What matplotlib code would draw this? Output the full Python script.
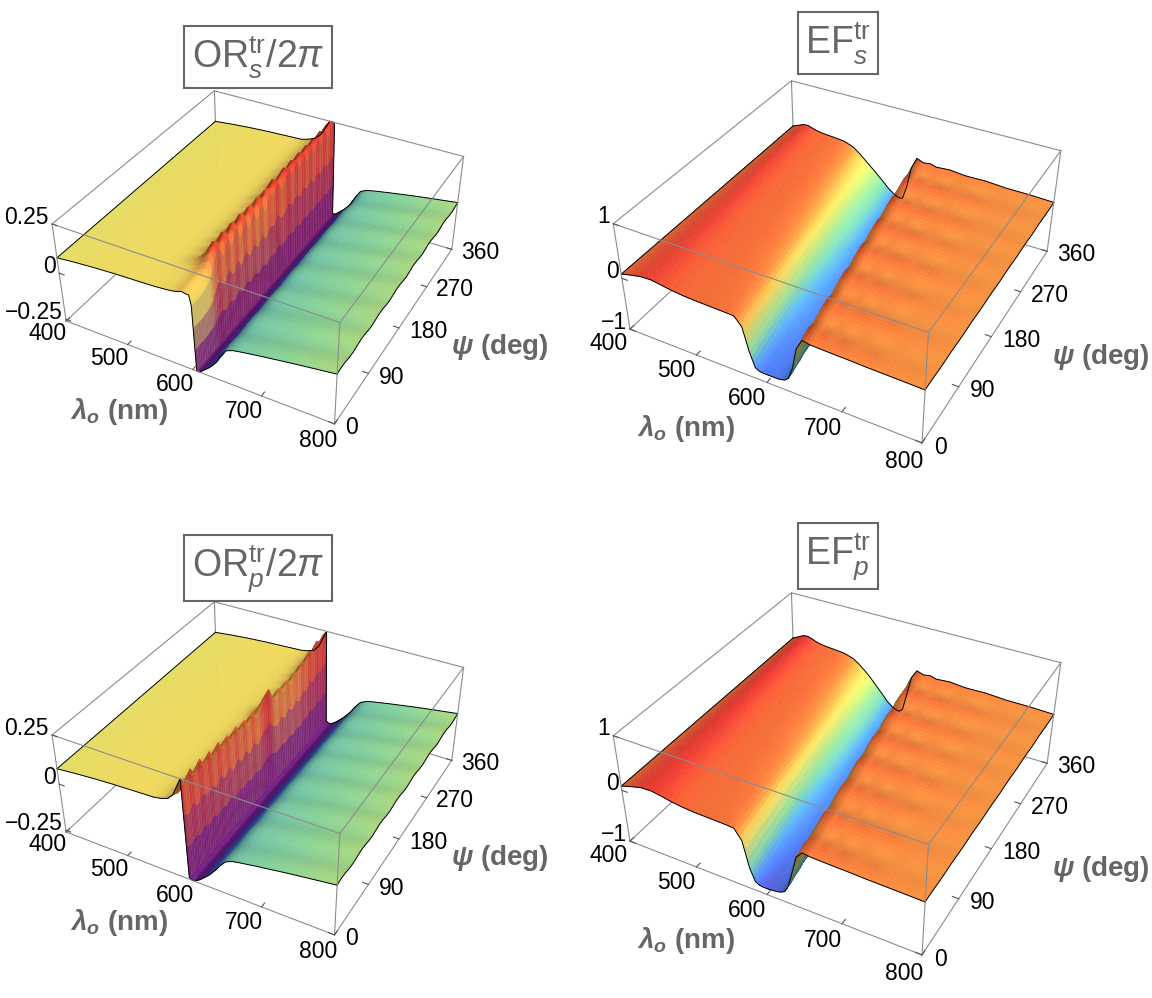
import numpy as np
import matplotlib
matplotlib.use("Agg")
import matplotlib.pyplot as plt
from matplotlib.colors import LinearSegmentedColormap, Normalize
from mpl_toolkits.mplot3d import proj3d

plt.rcParams['font.family'] = ['Liberation Sans', 'DejaVu Sans']
plt.rcParams['mathtext.fontset'] = 'custom'
plt.rcParams['mathtext.rm'] = 'Liberation Sans'
plt.rcParams['mathtext.it'] = 'Liberation Sans:italic'
plt.rcParams['mathtext.bf'] = 'Liberation Sans:bold:italic'

# sample positions: wavelength (nm) and polarisation angle psi (deg)
LAM = np.array([400, 415, 430, 445, 460, 475, 490, 505, 520, 535,
                550, 560, 570, 578, 585, 590, 595, 600, 603, 606,
                609, 612, 615, 620, 625, 630, 636, 642, 650, 660,
                670, 680, 695, 710, 730, 750, 775, 800])
PSI = np.arange(0, 361, 10)

# OR_s / 2pi : profile along lambda, resonance hump and its height along psi
ORS_BASE = [0.080, 0.085, 0.090, 0.094, 0.098, 0.101, 0.104, 0.106, 0.108, 0.110,
            0.112, 0.115, 0.118, 0.122, 0.128, 0.135, 0.130, 0.130, 0.080, -0.260,
            -0.260, -0.255, -0.245, -0.230, -0.215, -0.195, -0.170, -0.130, -0.090, -0.075,
            -0.068, -0.062, -0.053, -0.045, -0.034, -0.024, -0.012, 0.000]
ORS_HUMP = [0, 0, 0, 0, 0, 0, 0, 0, 0, 0,
            0, 0.04, 0.1, 0.2, 0.35, 0.5, 0.75, 0.95, 1.0, 0,
            0, 0, 0, 0, 0, 0, 0, 0, 0, 0,
            0, 0, 0, 0, 0, 0, 0, 0]
ORS_AMP = [0.0, 0.0, 0.0, 0.01, 0.03, 0.10, 0.15, 0.08, 0.15, 0.08,
           0.15, 0.08, 0.15, 0.08, 0.14, 0.08, 0.14, 0.08, 0.14, 0.11,
           0.17, 0.11, 0.13, 0.17, 0.12, 0.17, 0.12, 0.17, 0.12, 0.17,
           0.12, 0.17, 0.13, 0.17, 0.13, 0.17, 0.16]

# OR_p / 2pi
ORP_BASE = [0.080, 0.085, 0.090, 0.094, 0.098, 0.101, 0.104, 0.106, 0.108, 0.110,
            0.112, 0.115, 0.118, 0.122, 0.128, 0.130, -0.250, -0.260, -0.258, -0.252,
            -0.245, -0.237, -0.228, -0.212, -0.195, -0.175, -0.150, -0.120, -0.090, -0.075,
            -0.068, -0.062, -0.053, -0.045, -0.034, -0.024, -0.012, 0.000]
ORP_HUMP = [0, 0, 0, 0, 0, 0, 0, 0, 0, 0,
            0, 0.03, 0.1, 0.3, 0.7, 1.0, 0, 0, 0, 0,
            0, 0, 0, 0, 0, 0, 0, 0, 0, 0,
            0, 0, 0, 0, 0, 0, 0, 0]
ORP_AMP = [0.12, 0.07, 0.12, 0.07, 0.12, 0.07, 0.11, 0.06, 0.11, 0.06,
           0.10, 0.05, 0.10, 0.05, 0.09, 0.04, 0.09, 0.04, 0.08, 0.11,
           0.12, 0.06, 0.03, 0.07, 0.03, 0.07, 0.03, 0.07, 0.04, 0.09,
           0.06, 0.11, 0.08, 0.12, 0.10, 0.12, 0.12]

# EF_s and EF_p : lambda profiles seen at psi = 0 (FRONT) and psi = 360 (BACK)
EFS_FRONT = [0.080, 0.130, 0.170, 0.180, 0.150, 0.120, 0.100, 0.090, 0.085, 0.080,
             0.075, 0.070, -0.080, -0.520, -0.790, -0.830, -0.840, -0.840, -0.840, -0.840,
             -0.840, -0.840, -0.840, -0.830, -0.810, -0.750, -0.520, -0.120, 0.080, 0.050,
             0.045, 0.040, 0.035, 0.030, 0.020, 0.015, 0.008, 0.000]
EFS_BACK = [0.080, 0.130, 0.170, 0.180, 0.150, 0.120, 0.100, 0.090, 0.080, 0.060,
            -0.010, -0.110, -0.220, -0.310, -0.390, -0.450, -0.510, -0.570, -0.610, -0.650,
            -0.680, -0.710, -0.740, -0.780, -0.800, -0.790, -0.520, -0.120, 0.080, 0.050,
            0.045, 0.040, 0.035, 0.030, 0.020, 0.015, 0.008, 0.000]
EFP_FRONT = [0.080, 0.140, 0.190, 0.200, 0.170, 0.130, 0.105, 0.090, 0.085, 0.080,
             0.075, 0.065, -0.120, -0.600, -0.830, -0.870, -0.880, -0.880, -0.880, -0.875,
             -0.870, -0.865, -0.860, -0.840, -0.800, -0.670, -0.370, -0.050, 0.070, 0.050,
             0.045, 0.040, 0.035, 0.030, 0.020, 0.015, 0.008, 0.000]
EFP_BACK = [0.080, 0.140, 0.190, 0.200, 0.170, 0.130, 0.105, 0.090, 0.080, 0.060,
            0.000, -0.090, -0.200, -0.300, -0.400, -0.470, -0.540, -0.610, -0.660, -0.700,
            -0.730, -0.760, -0.790, -0.820, -0.830, -0.770, -0.420, -0.070, 0.070, 0.050,
            0.045, 0.040, 0.035, 0.030, 0.020, 0.015, 0.008, 0.000]
EF_WBACK = [0, 0.03, 0.06, 0.08, 0.11, 0.14, 0.17, 0.19, 0.22, 0.25,
            0.28, 0.31, 0.33, 0.36, 0.39, 0.42, 0.44, 0.47, 0.50, 0.53,
            0.56, 0.58, 0.61, 0.64, 0.67, 0.69, 0.72, 0.75, 0.78, 0.81,
            0.83, 0.86, 0.89, 0.92, 0.94, 0.97, 1.0]

# small ripples on the long-wavelength plateau
RIPPLE_PSI = [0, 0.95, 0.6, -0.6, -0.95, 0, 0.95, 0.6, -0.6, -0.95,
              0, 0.95, 0.6, -0.6, -0.95, 0, 0.95, 0.6, -0.6, -0.95,
              0, 0.95, 0.6, -0.6, -0.95, 0, 0.95, 0.6, -0.6, -0.95,
              0, 0.95, 0.6, -0.6, -0.95, 0, 0.95]
EF_RIPPLE_LAM = [0, 0, 0, 0, 0, 0, 0, 0, 0, 0,
                 0, 0, 0, 0, 0, 0, 0, 0, 0, 0,
                 0, 0, 0, 0, 0, 0, 0, 0.3, 1.0, 0.4,
                 1.0, 0.3, 0.9, 0.3, 0.7, 0.2, 0.3, 0.1]
OR_RIPPLE_LAM = [0, 0, 0, 0, 0, 0, 0, 0, 0, 0,
                 0, 0, 0, 0, 0, 0, 0, 0, 0, 0,
                 0, 0, 0, 0, 0, 0, 0, 0.4, 0.8, 1.0,
                 1.0, 1.0, 1.0, 1.0, 1.0, 1.0, 0.9, 0.8]

# drift of the EF resonance towards shorter wavelength as psi grows
EF_SHIFT = [0, -1, -3, -4, -6, -7, -8, -10, -11, -12,
            -14, -15, -17, -18, -19, -21, -22, -24, -25, -26,
            -28, -29, -31, -32, -33, -35, -36, -38, -39, -40,
            -42, -43, -44, -46, -47, -49, -50]
OR_SHIFT = [0] * 37
TAPER = [0, 0.1, 0.25, 0.4, 0.55, 0.7, 0.82, 0.92, 1, 1,
         1, 1, 1, 1, 1, 1, 1, 1, 1, 1,
         1, 1, 1, 1, 1, 1, 1, 1, 1, 1,
         1, 1, 0.9, 0.75, 0.55, 0.35, 0.15, 0]

LAM_TICKS = [400, 500, 600, 700, 800]
PSI_TICKS = [0, 90, 180, 270, 360]

rainbow = LinearSegmentedColormap.from_list("mma_rainbow", [
    (0.00, (0.45, 0.10, 0.50)),
    (0.08, (0.38, 0.22, 0.74)),
    (0.17, (0.29, 0.48, 0.95)),
    (0.26, (0.33, 0.66, 0.90)),
    (0.34, (0.45, 0.80, 0.70)),
    (0.44, (0.57, 0.86, 0.60)),
    (0.53, (0.74, 0.88, 0.48)),
    (0.62, (0.92, 0.92, 0.42)),
    (0.72, (0.96, 0.85, 0.36)),
    (0.80, (0.96, 0.63, 0.26)),
    (0.89, (0.95, 0.43, 0.21)),
    (1.00, (0.90, 0.18, 0.18)),
])

GRAY = "#666666"
BOX = "#8c8c8c"
LIGHT = np.array([0.55, -0.45, 0.70])
LIGHT = LIGHT / np.linalg.norm(LIGHT)

fig = plt.figure(figsize=(11.52, 9.98), dpi=100)
fig.patch.set_facecolor("white")
labels = []


def px_rect(cx, cy, w, h):
    return [(cx - w / 2) / 1152, 1 - (cy + h / 2) / 998, w / 1152, h / 998]


def quad_avg(a):
    out = a.copy()
    out[:-1, :-1] = 0.25 * (a[:-1, :-1] + a[1:, :-1] + a[:-1, 1:] + a[1:, 1:])
    return out


def subdivide(a, k, axis):
    # split every mesh cell k times (linear, like Gouraud shading in the original)
    a = np.moveaxis(a, axis, 0)
    t = (np.arange(k) / k).reshape(-1, *([1] * (a.ndim - 1)))
    parts = [a[i][None] * (1 - t) + a[i + 1][None] * t for i in range(a.shape[0] - 1)]
    out = np.concatenate(parts + [a[-1:]], axis=0)
    return np.moveaxis(out, 0, axis)


def draw_panel(center, front, back, wback, hump, amp, ripple_lam, ripple_amp, shift,
               zlim, vlim, zticks, zlabels, title, title_xy, zoom):
    ax = fig.add_axes(px_rect(center[0], center[1], 520, 470), projection="3d")
    ax.set_proj_type("persp", focal_length=0.42)
    ax.view_init(elev=36, azim=-61.6)
    ax.set_box_aspect((1, 1, 0.4), zoom=zoom)
    ax.set_xlim(400, 800)
    ax.set_ylim(0, 360)
    ax.set_zlim(*zlim)
    ax.set_axis_off()
    ax.computed_zorder = False

    lam = LAM.astype(float)
    X = lam[:, None] + np.array(TAPER)[:, None] * np.array(shift)[None, :]
    Y = np.broadcast_to(PSI[None, :], X.shape).astype(float)
    w = np.array(wback)[None, :]
    Z = (np.array(front)[:, None] * (1 - w) + np.array(back)[:, None] * w
         + np.array(hump)[:, None] * np.array(amp)[None, :]
         + ripple_amp * np.array(ripple_lam)[:, None] * np.array(RIPPLE_PSI)[None, :])
    Z = np.clip(Z, zlim[0], zlim[1])

    # lighting in box-scaled coordinates
    xs = (X - 400) / 400
    ys = Y / 360
    zs = (Z - zlim[0]) / (zlim[1] - zlim[0]) * 0.4
    dzdx = np.gradient(zs, axis=0) / np.gradient(xs, axis=0)
    dzdy = np.gradient(zs, axis=1) / np.gradient(ys, axis=1)
    nrm = np.stack([-dzdx, -dzdy, np.ones_like(zs)], axis=-1)
    nrm /= np.linalg.norm(nrm, axis=-1, keepdims=True)
    diff = np.clip(nrm @ LIGHT, 0, 1)
    rgba = rainbow(Normalize(*vlim)(Z))
    rgba[..., :3] = rgba[..., :3] * (0.58 + 0.6 * diff)[..., None]

    Xf, Yf, Zf, Cf = X, Y, Z, rgba
    for axis, k in ((0, 3), (1, 2)):
        Xf, Yf, Zf, Cf = (subdivide(Xf, k, axis), subdivide(Yf, k, axis),
                          subdivide(Zf, k, axis), subdivide(Cf, k, axis))
    Cf = np.clip(quad_avg(Cf), 0, 1)

    x0, x1, y0, y1 = 400, 800, 0, 360
    z0, z1 = zlim
    kw = dict(color=BOX, lw=0.8)
    back_edges = [((x0, x1), (y1, y1), (z0, z0)), ((x0, x0), (y0, y1), (z0, z0)),
                  ((x0, x0), (y1, y1), (z0, z1))]
    for e in back_edges:
        ax.plot(*e, zorder=1, **kw)

    ax.plot_surface(Xf, Yf, Zf, facecolors=Cf, rcount=Zf.shape[0], ccount=Zf.shape[1],
                    shade=False, linewidth=0.3, antialiased=True, zorder=2)

    ok = dict(color="black", lw=0.7, zorder=3)
    ax.plot(X[:, 0], Y[:, 0], Z[:, 0], **ok)
    ax.plot(X[:, -1], Y[:, -1], Z[:, -1], **ok)
    ax.plot(X[0, :], Y[0, :], Z[0, :], **ok)
    ax.plot(X[-1, :], Y[-1, :], Z[-1, :], **ok)

    front_edges = [((x0, x1), (y0, y0), (z0, z0)), ((x1, x1), (y0, y1), (z0, z0)),
                   ((x0, x1), (y0, y0), (z1, z1)), ((x1, x1), (y0, y1), (z1, z1)),
                   ((x0, x1), (y1, y1), (z1, z1)), ((x0, x0), (y0, y1), (z1, z1)),
                   ((x0, x0), (y0, y0), (z0, z1)), ((x1, x1), (y0, y0), (z0, z1)),
                   ((x1, x1), (y1, y1), (z0, z1))]
    for e in front_edges:
        ax.plot(*e, zorder=4, **kw)

    tk = dict(color="#555555", lw=0.8, zorder=4)
    fs = 16.5
    for v in LAM_TICKS:
        ax.plot((v, v), (0, 7), (z0, z0), **tk)
        labels.append((ax, v - 6, -30, z0, 0, str(v), dict(ha="center", va="center", fontsize=fs)))
    for v in PSI_TICKS:
        ax.plot((800, 792), (v, v), (z0, z0), **tk)
        labels.append((ax, 814, v, z0, 0, str(v), dict(ha="left", va="center", fontsize=fs)))
    for v, s in zip(zticks, zlabels):
        ax.plot((400, 408), (0, 0), (v, v), **tk)
        labels.append((ax, 397, -2, v, 7, s, dict(ha="right", va="center", fontsize=fs)))

    lab = dict(ha="center", va="center", fontsize=20, fontweight="bold", color=GRAY)
    labels.append((ax, 560, -95, z0, 0, r"$\mathbf{\lambda_o}$ (nm)", lab))
    labels.append((ax, 930, 205, z0, 0, r"$\mathbf{\psi}$ (deg)", lab))

    fig.text(title_xy[0] / 1152, 1 - title_xy[1] / 998, title, ha="center", va="center",
             fontsize=27, color=GRAY,
             bbox=dict(boxstyle="square,pad=0.2", fc="white", ec=GRAY, lw=1.5))
    return ax


OR_Z = dict(zlim=(-0.26, 0.25), vlim=(-0.26, 0.265), zticks=[0.25, 0, -0.25],
            zlabels=["0.25", "0", "\u22120.25"], zoom=0.89)
EF_Z = dict(zlim=(-1.0, 1.0), vlim=(-1.05, 0.22), zticks=[1, 0, -1],
            zlabels=["1", "0", "\u22121"], zoom=0.965)
NO_HUMP = [0] * 38
NO_AMP = [0] * 37
NO_W = [0] * 37

draw_panel((261, 244), ORS_BASE, ORS_BASE, NO_W, ORS_HUMP, ORS_AMP, OR_RIPPLE_LAM, 0.006,
           OR_SHIFT, title=r"$\mathrm{OR}_{s}^{\mathrm{tr}}/2\pi$", title_xy=(258, 57), **OR_Z)
draw_panel((842, 245), EFS_FRONT, EFS_BACK, EF_WBACK, NO_HUMP, NO_AMP, EF_RIPPLE_LAM, 0.045,
           EF_SHIFT, title=r"$\mathrm{EF}_{s}^{\mathrm{tr}}$", title_xy=(838, 43), **EF_Z)
draw_panel((261, 755), ORP_BASE, ORP_BASE, NO_W, ORP_HUMP, ORP_AMP, OR_RIPPLE_LAM, 0.006,
           OR_SHIFT, title=r"$\mathrm{OR}_{p}^{\mathrm{tr}}/2\pi$", title_xy=(258, 568), **OR_Z)
draw_panel((842, 757), EFP_FRONT, EFP_BACK, EF_WBACK, NO_HUMP, NO_AMP, EF_RIPPLE_LAM, 0.045,
           EF_SHIFT, title=r"$\mathrm{EF}_{p}^{\mathrm{tr}}$", title_xy=(838, 556), **EF_Z)

# place tick and axis labels as plain figure texts at the projected positions
fig.canvas.draw()
W, H = fig.bbox.width, fig.bbox.height
for ax, x, y, z, lift, s, kw in labels:
    px, py, _ = proj3d.proj_transform(x, y, z, ax.get_proj())
    dx, dy = ax.transData.transform((px, py))
    fig.text(dx / W, (dy + lift) / H, s, **kw)

fig.savefig("out.png", dpi=100, facecolor="white")
